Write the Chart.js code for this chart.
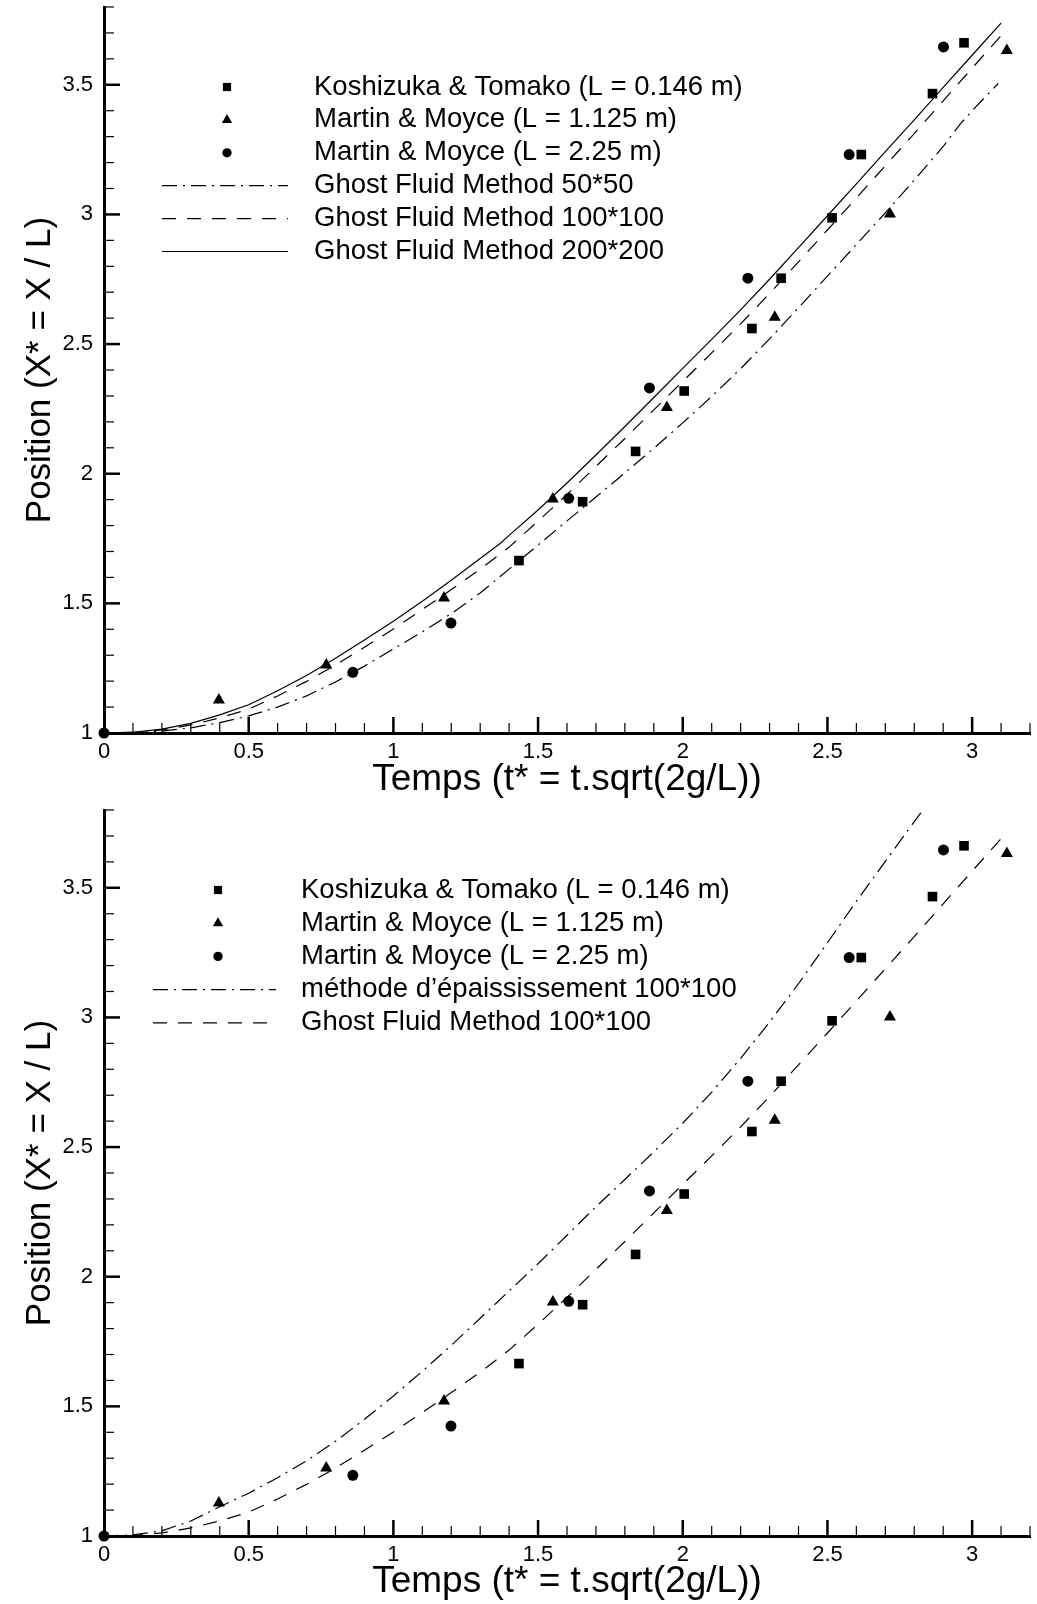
<!DOCTYPE html>
<html>
<head>
<meta charset="utf-8">
<script src="https://cdn.jsdelivr.net/npm/chart.js@4.4.1/dist/chart.umd.min.js"></script>
<style>
  body { margin: 0; background: #fff; }
  .plot { width: 1037px; height: 802px; }
</style>
</head>
<body>
<div class="plot"><canvas id="gfmChart" width="1037" height="802"></canvas></div>
<div class="plot"><canvas id="thickChart" width="1037" height="802"></canvas></div>
<script>
// experimental points (t*, X*)
var koshizukaT = [1.434, 1.654, 1.837, 2.005, 2.239, 2.340, 2.516, 2.617, 2.863, 2.972];
var koshizukaX = [1.665, 1.892, 2.086, 2.319, 2.560, 2.754, 2.987, 3.231, 3.466, 3.662];
var moyce1T = [0.397, 0.768, 1.175, 1.551, 1.945, 2.318, 2.716, 3.120];
var moyce1X = [1.127, 1.262, 1.521, 1.902, 2.255, 2.603, 3.002, 3.632];
var moyce2T = [0, 0.860, 1.199, 1.606, 1.885, 2.225, 2.575, 2.901];
var moyce2X = [1, 1.234, 1.424, 1.905, 2.331, 2.754, 3.231, 3.646];

// computed fronts
var gfm50T = [0, 0.1, 0.2, 0.3, 0.4, 0.5, 0.6, 0.7, 0.8, 0.9, 1.0, 1.1, 1.2, 1.3, 1.4, 1.5, 1.6, 1.7, 1.8, 1.9, 2.0, 2.1, 2.2, 2.3, 2.4, 2.5, 2.6, 2.7, 2.8, 2.9, 2.96, 3.0, 3.09];
var gfm50X = [1, 1.001, 1.007, 1.02, 1.04, 1.066, 1.1, 1.143, 1.197, 1.258, 1.324, 1.39, 1.46, 1.54, 1.632, 1.725, 1.818, 1.91, 2.003, 2.098, 2.196, 2.298, 2.405, 2.52, 2.64, 2.762, 2.884, 3.006, 3.132, 3.262, 3.35, 3.4, 3.505];
var gfm100T = [0, 0.1, 0.2, 0.3, 0.4, 0.5, 0.6, 0.7, 0.8, 0.9, 1.0, 1.1, 1.2, 1.3, 1.4, 1.5, 1.6, 1.7, 1.8, 1.9, 2.0, 2.1, 2.2, 2.3, 2.4, 2.5, 2.6, 2.7, 2.8, 2.9, 3.0, 3.1];
var gfm100X = [1, 1.002, 1.012, 1.031, 1.058, 1.092, 1.143, 1.199, 1.262, 1.331, 1.401, 1.476, 1.553, 1.632, 1.717, 1.817, 1.92, 2.028, 2.136, 2.246, 2.356, 2.466, 2.578, 2.695, 2.817, 2.94, 3.063, 3.188, 3.312, 3.438, 3.564, 3.69];
var gfm200T = [0, 0.1, 0.2, 0.3, 0.4, 0.5, 0.6, 0.7, 0.8, 0.9, 1.0, 1.1, 1.2, 1.3, 1.37, 1.4, 1.5, 1.6, 1.7, 1.8, 1.9, 2.0, 2.1, 2.2, 2.3, 2.4, 2.5, 2.6, 2.7, 2.8, 2.9, 3.0, 3.1];
var gfm200X = [1, 1.003, 1.015, 1.037, 1.07, 1.109, 1.163, 1.222, 1.288, 1.359, 1.431, 1.508, 1.589, 1.673, 1.732, 1.762, 1.86, 1.964, 2.072, 2.182, 2.294, 2.406, 2.518, 2.632, 2.75, 2.872, 2.995, 3.118, 3.242, 3.365, 3.49, 3.614, 3.738];
var thickT = [0, 0.1, 0.2, 0.3, 0.4, 0.5, 0.6, 0.7, 0.8, 0.9, 1.0, 1.1, 1.2, 1.3, 1.4, 1.5, 1.6, 1.7, 1.8, 1.9, 2.0, 2.1, 2.2, 2.3, 2.4, 2.5, 2.6, 2.7, 2.8, 2.83];
var thickX = [1, 1.004, 1.02, 1.058, 1.113, 1.165, 1.225, 1.29, 1.365, 1.45, 1.54, 1.635, 1.735, 1.84, 1.945, 2.05, 2.16, 2.27, 2.375, 2.482, 2.592, 2.712, 2.842, 2.982, 3.13, 3.288, 3.448, 3.602, 3.755, 3.8];

var xTicks = [0, 0.5, 1, 1.5, 2, 2.5, 3];
var yTicks = [1, 1.5, 2, 2.5, 3, 3.5];

Chart.defaults.font.family = "'Liberation Sans', Arial, Helvetica, sans-serif";
Chart.defaults.color = '#000';

function pts(ts, xs) {
    return ts.map(function (t, i) { return { x: t, y: xs[i] }; });
}

function markerSets() {
    return [{
        label: 'Koshizuka & Tomako (L = 0.146 m)',
        data: pts(koshizukaT, koshizukaX),
        pointStyle: 'rect', pointRadius: 6.8,
        backgroundColor: '#000', borderWidth: 0, clip: false
    }, {
        label: 'Martin & Moyce (L = 1.125 m)',
        data: pts(moyce1T, moyce1X),
        pointStyle: 'triangle', pointRadius: 7,
        backgroundColor: '#000', borderWidth: 0, clip: false
    }, {
        label: 'Martin & Moyce (L = 2.25 m)',
        data: pts(moyce2T, moyce2X),
        pointStyle: 'circle', pointRadius: 5.5,
        backgroundColor: '#000', borderWidth: 0, clip: false
    }];
}

function curve(label, ts, xs, dash) {
    return {
        label: label,
        data: pts(ts, xs),
        showLine: true,
        borderColor: '#000',
        borderWidth: 1.2,
        borderDash: dash,
        pointRadius: 0,
        fill: false
    };
}

// legend drawn inside the plot, symbol column then text column
var insideLegend = {
    id: 'insideLegend',
    afterDatasetsDraw: function (chart, args, opts) {
        var ctx = chart.ctx;
        ctx.save();
        ctx.font = opts.font;
        ctx.fillStyle = '#000';
        ctx.strokeStyle = '#000';
        ctx.textBaseline = 'middle';
        ctx.textAlign = 'left';
        chart.data.datasets.forEach(function (ds, i) {
            var y = opts.top + i * opts.rowHeight;
            if (ds.showLine) {
                ctx.lineWidth = ds.borderWidth;
                ctx.setLineDash(ds.borderDash || []);
                ctx.beginPath();
                ctx.moveTo(opts.lineStart, y);
                ctx.lineTo(opts.lineEnd, y);
                ctx.stroke();
                ctx.setLineDash([]);
            } else {
                Chart.helpers.drawPoint(ctx, {
                    pointStyle: ds.pointStyle, radius: ds.pointRadius * 0.85, borderWidth: 0, rotation: 0
                }, opts.markerX, y);
            }
            ctx.fillText(ds.label, opts.textX, y);
        });
        ctx.restore();
    }
};

// tecplot style ticks pointing into the plot
var innerTicks = {
    id: 'innerTicks',
    afterDraw: function (chart) {
        var ctx = chart.ctx, xs = chart.scales.x, ys = chart.scales.y, area = chart.chartArea;
        ctx.save();
        ctx.strokeStyle = '#000';
        var i, px, major;
        for (i = Math.round(xs.min * 10) + 1; i <= Math.round(xs.max * 10); i++) {
            px = xs.getPixelForValue(i / 10);
            major = i % 5 === 0;
            ctx.lineWidth = major ? 2.5 : 1.2;
            ctx.beginPath();
            ctx.moveTo(px, area.bottom);
            ctx.lineTo(px, area.bottom - (major ? 16 : 10));
            ctx.stroke();
        }
        for (i = Math.round(ys.min * 10) + 1; i <= Math.round(ys.max * 10); i++) {
            px = ys.getPixelForValue(i / 10);
            major = i % 5 === 0;
            ctx.lineWidth = major ? 2.5 : 1.2;
            ctx.beginPath();
            ctx.moveTo(area.left, px);
            ctx.lineTo(area.left + (major ? 16 : 10), px);
            ctx.stroke();
        }
        ctx.restore();
    }
};

function makeOptions(padTop, axisHeight, legend) {
    return {
        responsive: false,
        animation: false,
        layout: { padding: { top: padTop, right: 0, bottom: 0, left: 0 } },
        plugins: {
            legend: { display: false },
            tooltip: { enabled: false },
            insideLegend: legend
        },
        scales: {
            x: {
                type: 'linear', min: 0, max: 3.2,
                afterBuildTicks: function (scale) {
                    scale.ticks = xTicks.map(function (v) { return { value: v }; });
                },
                afterFit: function (scale) {
                    scale.height = axisHeight;
                    scale.paddingLeft = 0;
                    scale.paddingRight = 0;
                },
                grid: { drawOnChartArea: false, drawTicks: false },
                border: { display: true, color: '#000', width: 3 },
                ticks: {
                    autoSkip: false, maxRotation: 0, padding: 6,
                    font: { size: 22 },
                    callback: function (v) { return String(v); }
                },
                title: {
                    display: true, text: 'Temps (t* = t.sqrt(2g/L))',
                    font: { size: 37 }, padding: { top: 0, bottom: 0 }
                }
            },
            y: {
                type: 'linear', min: 1, max: 3.8,
                afterBuildTicks: function (scale) {
                    scale.ticks = yTicks.map(function (v) { return { value: v }; });
                },
                afterFit: function (scale) {
                    scale.width = 104;
                    scale.paddingTop = 0;
                    scale.paddingBottom = 0;
                },
                grid: { drawOnChartArea: false, drawTicks: false },
                border: { display: true, color: '#000', width: 3 },
                ticks: {
                    autoSkip: false, padding: 11,
                    font: { size: 22 },
                    callback: function (v) { return String(v); }
                },
                title: {
                    display: true, text: 'Position (X* = X / L)',
                    font: { size: 35 }, padding: { top: 19, bottom: 0 }
                }
            }
        }
    };
}

var dashDot = [15, 6, 2, 6];
var dashed = [14, 11];

new Chart(document.getElementById('gfmChart').getContext('2d'), {
    type: 'scatter',
    data: {
        datasets: markerSets().concat([
            curve('Ghost Fluid Method 50*50', gfm50T, gfm50X, dashDot),
            curve('Ghost Fluid Method 100*100', gfm100T, gfm100X, dashed),
            curve('Ghost Fluid Method 200*200', gfm200T, gfm200X, [])
        ])
    },
    options: makeOptions(7, 69, {
        top: 87, rowHeight: 32.9, markerX: 227, lineStart: 162, lineEnd: 288, textX: 314,
        font: "27.5px 'Liberation Sans', Arial, Helvetica, sans-serif"
    }),
    plugins: [insideLegend, innerTicks]
});

new Chart(document.getElementById('thickChart').getContext('2d'), {
    type: 'scatter',
    data: {
        datasets: markerSets().concat([
            curve('méthode d’épaississement 100*100', thickT, thickX, dashDot),
            curve('Ghost Fluid Method 100*100', gfm100T, gfm100X, dashed)
        ])
    },
    options: makeOptions(8, 68, {
        top: 88, rowHeight: 33.2, markerX: 218, lineStart: 153, lineEnd: 276, textX: 301,
        font: "27.5px 'Liberation Sans', Arial, Helvetica, sans-serif"
    }),
    plugins: [insideLegend, innerTicks]
});
</script>
</body>
</html>
